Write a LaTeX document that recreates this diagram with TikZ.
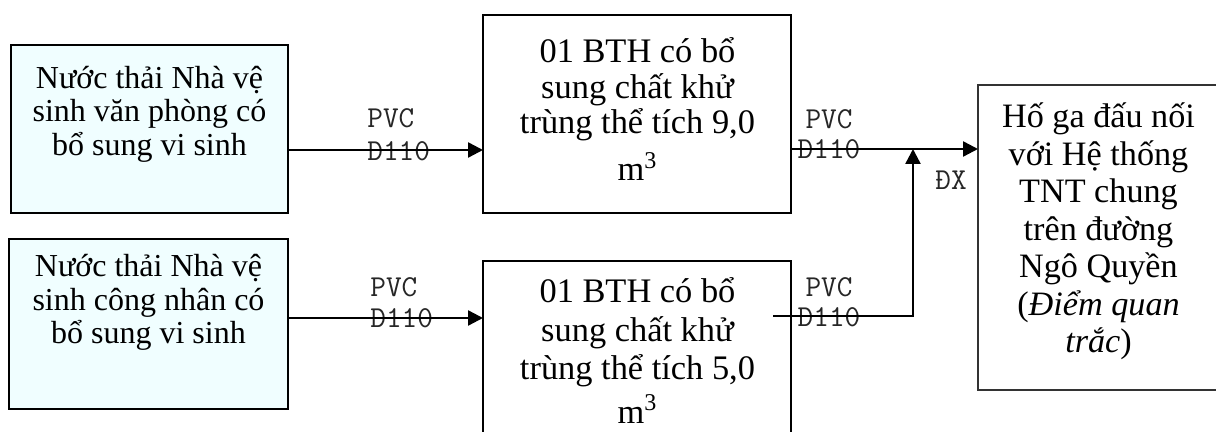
\documentclass[tikz,border=0pt]{standalone}
\usepackage{fontspec}
\setmainfont{Liberation Serif}
\usetikzlibrary{arrows.meta}
% centred lines whose first baseline is the node's base
\newcommand\linesT[1]{\begin{tabular}[t]{@{}c@{}}#1\end{tabular}}
\newcommand\linesL[1]{\begin{tabular}[t]{@{}l@{}}#1\end{tabular}}
\definecolor{srcfill}{RGB}{240,254,255}
\begin{document}
\begin{tikzpicture}[x=0.5pt,y=-0.5pt,
  box/.style={rectangle,draw=black,line width=1pt,inner sep=0pt,outer sep=0pt},
  srcbox/.style={box,fill=srcfill},
  txt/.style={anchor=base,inner sep=0pt},
  lbl/.style={inner sep=0pt,text=black!85,font=\ttfamily\fontsize{15.2}{16}\selectfont},
  pipe/.style={line width=1.2pt,-{Triangle[length=7.5pt,width=7.5pt]}}]
\useasboundingbox (0,0) rectangle (1216,432);
\clip (0,0) rectangle (1216,432);

% boxes
\node[srcbox,minimum width=138.5pt,minimum height=84pt] (A) at (149.5,129) {};
\node[srcbox,minimum width=139.5pt,minimum height=85pt] (B) at (148.5,324) {};
\node[box,minimum width=154pt,minimum height=99pt] (C) at (637,114) {};
\node[box,minimum width=154pt,minimum height=100pt] (D) at (637,361) {};
\node[box,draw=black!80,minimum width=130pt,minimum height=152.5pt] (E) at (1108,237.5) {};

% box texts
\node[txt,font=\fontsize{16}{16.5}\selectfont] (tA) at (149.5,89)
  {\linesT{Nước thải Nhà vệ\\ sinh văn phòng có\\ bổ sung vi sinh}};
\node[txt,font=\fontsize{16}{16.7}\selectfont] (tB) at (148.5,277)
  {\linesT{Nước thải Nhà vệ\\ sinh công nhân có\\ bổ sung vi sinh}};
\node[txt,font=\fontsize{17.2}{17}\selectfont] (tC) at (637.5,63)
  {\linesT{01 BTH có bổ\\ sung chất khử\\ trùng thể tích 9,0\\[4.5pt] m\textsuperscript{3}}};
\node[txt,font=\fontsize{17.2}{19.2}\selectfont] (tD) at (637.5,303)
  {\linesT{01 BTH có bổ\\ sung chất khử\\ trùng thể tích 5,0\\[1.7pt] m\textsuperscript{3}}};
\node[txt,font=\fontsize{17.1}{18.75}\selectfont] (tE) at (1098.5,128)
  {\linesT{Hố ga đấu nối\\ với Hệ thống\\ TNT chung\\ trên đường\\ Ngô Quyền\\ (\textit{Điểm quan}\\ \textit{trắc})}};

% pipe labels
\node[lbl,anchor=base west] (l1) at (367,128) {\linesL{PVC\\[0.5pt] D110}};
\node[lbl,anchor=base west] (l2) at (370,297) {\linesL{PVC\\[-0.5pt] D110}};
\node[lbl,anchor=base] (l3) at (829,129) {\linesT{PVC\\[-1pt] D110}};
\node[lbl,anchor=base] (l4) at (829,297) {\linesT{PVC\\[-1pt] D110}};
\node[lbl,anchor=base] (dx) at (951,190) {ĐX};

% pipes
\coordinate (J) at (913,149);
\coordinate (Dout) at (773,316);
\draw[pipe] (A.east |- 0,150) -- (C.west |- 0,150);
\draw[pipe] (B.east |- 0,318) -- (D.west |- 0,318);
\draw[pipe] (C.east |- J) -- (E.west |- J);
\draw[pipe] (Dout) -| (J);
\end{tikzpicture}
\end{document}
